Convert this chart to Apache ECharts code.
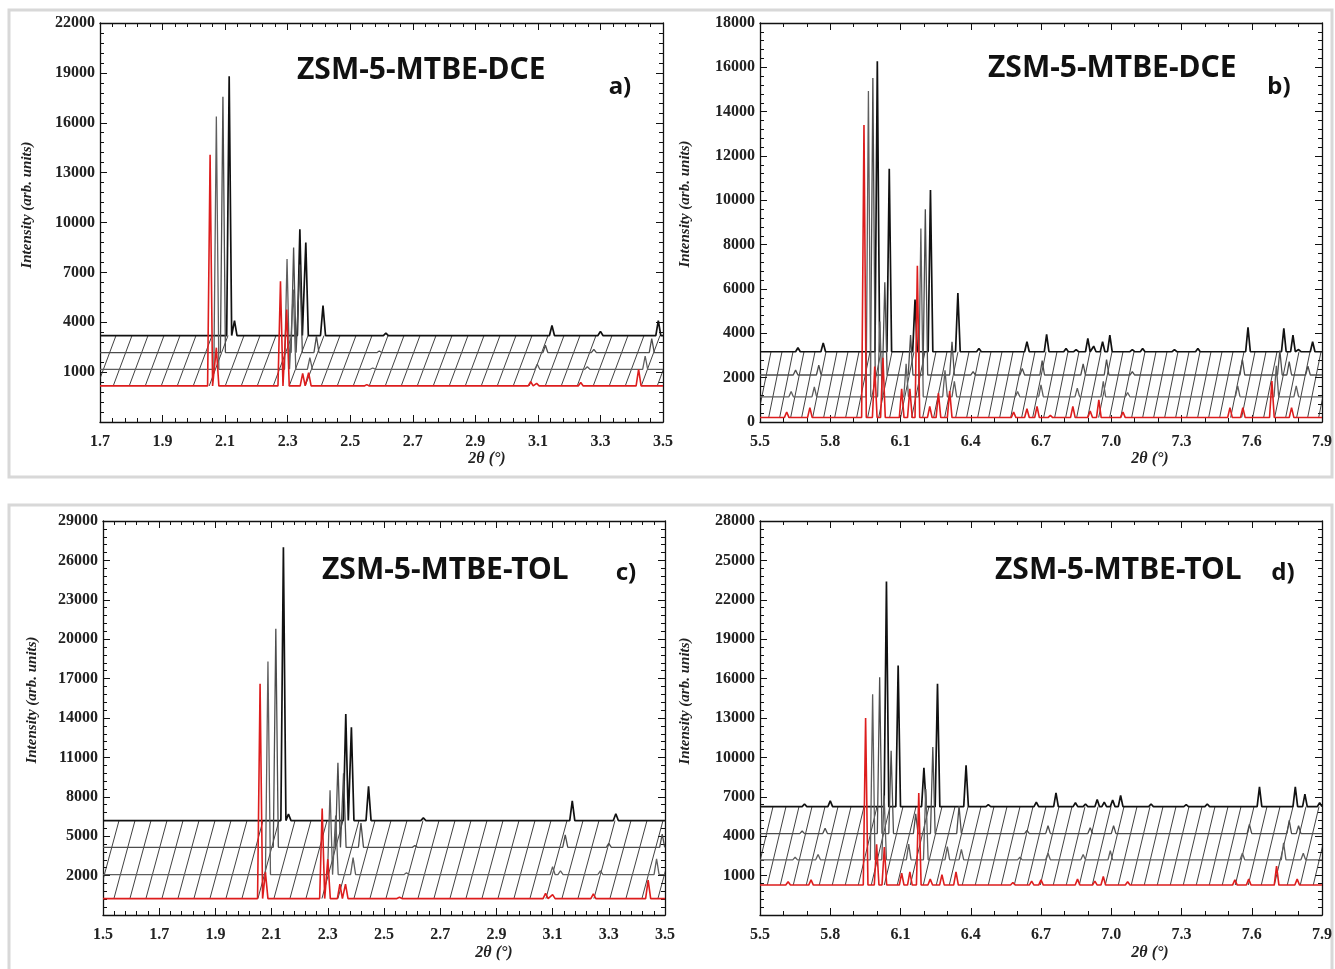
<!DOCTYPE html>
<html>
<head>
<meta charset="utf-8">
<script src="https://cdn.jsdelivr.net/npm/echarts@6/dist/echarts.min.js"></script>
<style>
  html, body { margin: 0; padding: 0; background: #fff; }
  #chart { width: 1335px; height: 969px; }
</style>
</head>
<body>
<div id="chart"></div>
<script>
// 坐标轴范围 [min, max, interval]
const xRangeA = [1.7, 3.5, 0.2];
const yRangeA = [-2000, 22000, 3000];
const xRangeB = [5.5, 7.9, 0.3];
const yRangeB = [0, 18000, 2000];
const xRangeC = [1.5, 3.5, 0.2];
const yRangeC = [-1000, 29000, 3000];
const xRangeD = [5.5, 7.9, 0.3];
const yRangeD = [-2000, 28000, 3000];

// 每条曲线的基线（红、灰1、灰2、黑）
const basesA = [170, 1170, 2170, 3200];
const basesB = [200, 1130, 2120, 3170];
const basesC = [250, 2070, 4150, 6190];
const basesD = [280, 2200, 4200, 6250];

// 红线到黑线的水平错位（2θ）
const offsetsX = [0.06, 0.057, 0.075, 0.08];

// 峰：[2θ, 相对基线的高度]
const redA = [[2.052, 13900], [2.072, 2300], [2.277, 6300], [2.297, 4600], [2.348, 750], [2.367, 800],
  [2.553, 80], [3.077, 250], [3.096, 150], [3.237, 200], [3.422, 1000]];
const grey1A = [[2.072, 15200], [2.298, 6630], [2.318, 4800], [2.371, 700], [2.572, 80], [3.098, 300],
  [3.258, 150], [3.443, 800]];
const grey2A = [[2.093, 15400], [2.319, 6330], [2.339, 5300], [2.392, 1000], [2.593, 100], [3.124, 450],
  [3.279, 200], [3.464, 850]];
const blackA = [[2.113, 15600], [2.130, 900], [2.339, 6400], [2.358, 5600], [2.413, 1800], [2.614, 150],
  [3.145, 600], [3.300, 250], [3.485, 900]];

const redB = [[5.614, 250], [5.713, 450], [5.944, 13200], [5.990, 2300], [6.025, 2700], [6.105, 1300],
  [6.140, 1300], [6.172, 6850], [6.225, 500], [6.262, 1100], [6.310, 1200], [6.583, 250], [6.640, 400],
  [6.683, 500], [6.740, 100], [6.836, 500], [6.910, 300], [6.947, 800], [7.050, 250], [7.507, 450],
  [7.562, 450], [7.686, 1650], [7.770, 450]];
const grey1B = [[5.633, 250], [5.732, 450], [5.963, 13800], [6.012, 3400], [6.124, 1500], [6.187, 7600],
  [6.290, 1200], [6.330, 700], [6.600, 250], [6.700, 550], [6.855, 400], [6.966, 700], [7.070, 200],
  [7.540, 500], [7.705, 1400], [7.790, 500]];
const grey2B = [[5.652, 220], [5.751, 450], [5.982, 13400], [6.033, 4180], [6.143, 1800], [6.206, 7480],
  [6.320, 1500], [6.410, 150], [6.620, 300], [6.705, 650], [6.880, 500], [6.980, 700], [7.090, 150],
  [7.560, 700], [7.720, 1100], [7.760, 600], [7.840, 400]];
const blackB = [[5.662, 180], [5.770, 400], [6.001, 13100], [6.052, 8250], [6.162, 2350], [6.228, 7300],
  [6.345, 2650], [6.435, 150], [6.640, 450], [6.724, 780], [6.807, 150], [6.850, 100], [6.900, 600],
  [6.925, 250], [6.963, 450], [6.994, 750], [7.090, 100], [7.134, 150], [7.270, 100], [7.370, 150],
  [7.584, 1100], [7.737, 1050], [7.776, 750], [7.800, 100], [7.860, 450]];

const redC = [[2.059, 16350], [2.078, 2000], [2.280, 6850], [2.300, 3000], [2.343, 1100], [2.363, 1100],
  [2.555, 100], [3.075, 400], [3.100, 300], [3.245, 350], [3.440, 1400]];
const grey1C = [[2.087, 16230], [2.308, 6430], [2.328, 4500], [2.390, 1300], [2.580, 150], [3.100, 600],
  [3.128, 300], [3.270, 300], [3.470, 1200]];
const grey2C = [[2.115, 16650], [2.336, 6450], [2.356, 5650], [2.418, 1850], [2.610, 150], [3.145, 950],
  [3.300, 300], [3.490, 1000]];
const blackC = [[2.142, 20810], [2.160, 500], [2.364, 8110], [2.384, 7110], [2.445, 2600], [2.640, 200],
  [3.170, 1500], [3.325, 520]];

const redD = [[5.620, 250], [5.718, 400], [5.951, 12720], [5.998, 3100], [6.031, 2900], [6.105, 900],
  [6.140, 1000], [6.178, 7000], [6.227, 450], [6.277, 800], [6.337, 1000], [6.580, 200], [6.660, 300],
  [6.700, 400], [6.856, 450], [6.930, 300], [6.966, 650], [7.070, 250], [7.528, 400], [7.587, 450],
  [7.706, 1450], [7.794, 450]];
const grey1D = [[5.650, 200], [5.748, 400], [5.981, 12600], [6.030, 4900], [6.135, 1200], [6.208, 5400],
  [6.300, 1000], [6.360, 800], [6.610, 200], [6.730, 500], [6.880, 400], [6.996, 700], [7.560, 500],
  [7.736, 1300], [7.820, 500]];
const grey2D = [[5.680, 200], [5.778, 400], [6.011, 11900], [6.060, 6300], [6.165, 1500], [6.238, 6600],
  [6.350, 2100], [6.640, 250], [6.730, 600], [6.910, 450], [7.010, 600], [7.590, 700], [7.760, 1000],
  [7.800, 600]];
const blackD = [[5.690, 200], [5.800, 450], [6.040, 17150], [6.090, 10750], [6.200, 2950], [6.258, 9350],
  [6.380, 3150], [6.475, 150], [6.680, 350], [6.764, 1050], [6.847, 300], [6.890, 200], [6.940, 550],
  [6.970, 350], [7.006, 500], [7.040, 850], [7.170, 200], [7.320, 150], [7.410, 200], [7.633, 1500],
  [7.786, 1500], [7.827, 950], [7.890, 300]];

const titles = ['ZSM-5-MTBE-DCE', 'ZSM-5-MTBE-DCE', 'ZSM-5-MTBE-TOL', 'ZSM-5-MTBE-TOL'];
const letters = ['a)', 'b)', 'c)', 'd)'];

const panels = [
  { x: xRangeA, y: yRangeA, bases: basesA, curves: [redA, grey1A, grey2A, blackA], w: 0.008, gap: 16, xMinor: 5,
    grid: { left: 100, top: 23, width: 563, height: 399 }, title: [297, 70], letter: [620, 87], yName: [27, 205], xName: [487, 459] },
  { x: xRangeB, y: yRangeB, bases: basesB, curves: [redB, grey1B, grey2B, blackB], w: 0.01, gap: 11, xMinor: 3,
    grid: { left: 760, top: 23, width: 562, height: 399 }, title: [988, 68], letter: [1279, 87], yName: [685, 204], xName: [1150, 459] },
  { x: xRangeC, y: yRangeC, bases: basesC, curves: [redC, grey1C, grey2C, blackC], w: 0.009, gap: 16, xMinor: 5,
    grid: { left: 103, top: 521, width: 562, height: 394 }, title: [322, 570], letter: [626, 573], yName: [32, 700], xName: [494, 953] },
  { x: xRangeD, y: yRangeD, bases: basesD, curves: [redD, grey1D, grey2D, blackD], w: 0.01, gap: 13, xMinor: 3,
    grid: { left: 760, top: 521, width: 562, height: 394 }, title: [995, 570], letter: [1283, 573], yName: [685, 701], xName: [1150, 953] }
];

const curveColors = ['#dd1d1d', '#5e5e5e', '#4c4c4c', '#111'];
const curveWidths = [1.6, 1.3, 1.3, 1.7];

// 由峰列表生成曲线折线
const curvePoints = (peaks, base, xr, w) => {
  const pts = [[xr[0], base]];
  peaks.slice().sort((a, b) => a[0] - b[0]).forEach(([p, h]) => {
    pts.push([p - w, base], [p, base + h], [p + w, base]);
  });
  pts.push([xr[1], base]);
  return pts;
};

const labelFont = { fontFamily: 'Liberation Serif', fontWeight: 'bold', fontSize: 16, color: '#222' };
const axisLine = { show: true, onZero: false, lineStyle: { color: '#111', width: 1.3 } };

const grid = [], xAxis = [], yAxis = [], series = [], graphic = [];

graphic.push(
  { type: 'rect', shape: { x: 9, y: 10, width: 1323, height: 467 }, style: { fill: 'none', stroke: '#d8d8d8', lineWidth: 3 }, z: 0 },
  { type: 'rect', shape: { x: 9, y: 505, width: 1323, height: 470 }, style: { fill: 'none', stroke: '#d8d8d8', lineWidth: 3 }, z: 0 }
);

panels.forEach((p, i) => {
  grid.push(Object.assign({ containLabel: false }, p.grid));
  const common = { type: 'value', gridIndex: i, splitLine: { show: false }, axisLine };
  const xBase = Object.assign({}, common, {
    min: p.x[0], max: p.x[1], interval: p.x[2],
    axisTick: { inside: true, length: 7, lineStyle: { color: '#111' } },
    minorTick: { show: true, splitNumber: p.xMinor, length: 4, lineStyle: { color: '#111' } }
  });
  const yBase = Object.assign({}, common, {
    min: p.y[0], max: p.y[1], interval: p.y[2],
    axisTick: { inside: true, length: 7, lineStyle: { color: '#111' } },
    minorTick: { show: true, splitNumber: 5, length: 4, lineStyle: { color: '#111' } }
  });
  xAxis.push(Object.assign({}, xBase, { position: 'bottom',
    axisLabel: Object.assign({ margin: 12, showMinLabel: true, showMaxLabel: true, formatter: v => v.toFixed(1) }, labelFont) }));
  xAxis.push(Object.assign({}, xBase, { position: 'top', axisLabel: { show: false } }));
  yAxis.push(Object.assign({}, yBase, { position: 'left',
    axisLabel: Object.assign({ margin: 5, formatter: v => (v < 0 ? '' : String(v)) }, labelFont) }));
  yAxis.push(Object.assign({}, yBase, { position: 'right', axisLabel: { show: false } }));

  const xi = 2 * i, yi = 2 * i;
  // 斜线：连接红色基线与黑色基线
  series.push({
    type: 'custom', xAxisIndex: xi, yAxisIndex: yi, silent: true, z: 1,
    encode: { x: 0, y: 1 },
    data: [[p.x[0], p.bases[0], p.bases[3], offsetsX[i]]],
    renderItem: (params, api) => {
      const cs = params.coordSys;
      const lo = api.coord([api.value(0), api.value(1)]);
      const hi = api.coord([api.value(0) + api.value(3), api.value(2)]);
      const dx = hi[0] - lo[0];
      const children = [];
      for (let x = cs.x - dx; x < cs.x + cs.width; x += p.gap) {
        children.push({ type: 'line', shape: { x1: x, y1: lo[1], x2: x + dx, y2: hi[1] },
          style: { stroke: '#2b2b2b', lineWidth: 0.9 } });
      }
      return { type: 'group', children,
        clipPath: { type: 'rect', shape: { x: cs.x, y: cs.y, width: cs.width, height: cs.height } } };
    }
  });
  // 曲线：黑色在后，红色在最前
  [3, 2, 1, 0].forEach(k => {
    series.push({
      type: 'line', xAxisIndex: xi, yAxisIndex: yi, silent: true,
      showSymbol: false, z: 2 + (3 - k),
      lineStyle: { color: curveColors[k], width: curveWidths[k] },
      data: curvePoints(p.curves[k], p.bases[k], p.x, p.w)
    });
  });

  graphic.push(
    { type: 'text', x: p.title[0], y: p.title[1], z: 10,
      style: { text: titles[i], font: 'bold 30px "Noto Sans"', fill: '#111', textAlign: 'left', textVerticalAlign: 'middle' } },
    { type: 'text', x: p.letter[0], y: p.letter[1], z: 10,
      style: { text: letters[i], font: 'bold 24px "Noto Sans"', fill: '#111', textAlign: 'center', textVerticalAlign: 'middle' } },
    { type: 'text', x: p.yName[0], y: p.yName[1], rotation: Math.PI / 2, z: 10,
      style: { text: 'Intensity (arb. units)', font: 'italic bold 15px "Liberation Serif"', fill: '#222', textAlign: 'center', textVerticalAlign: 'middle' } },
    { type: 'text', x: p.xName[0], y: p.xName[1], z: 10,
      style: { text: '2θ (°)', font: 'italic bold 16px "Liberation Serif"', fill: '#222', textAlign: 'center', textVerticalAlign: 'middle' } }
  );
});

const chart = echarts.init(document.getElementById('chart'));
chart.setOption({
  animation: false,
  backgroundColor: '#fff',
  grid, xAxis, yAxis, series, graphic
});
</script>
</body>
</html>
